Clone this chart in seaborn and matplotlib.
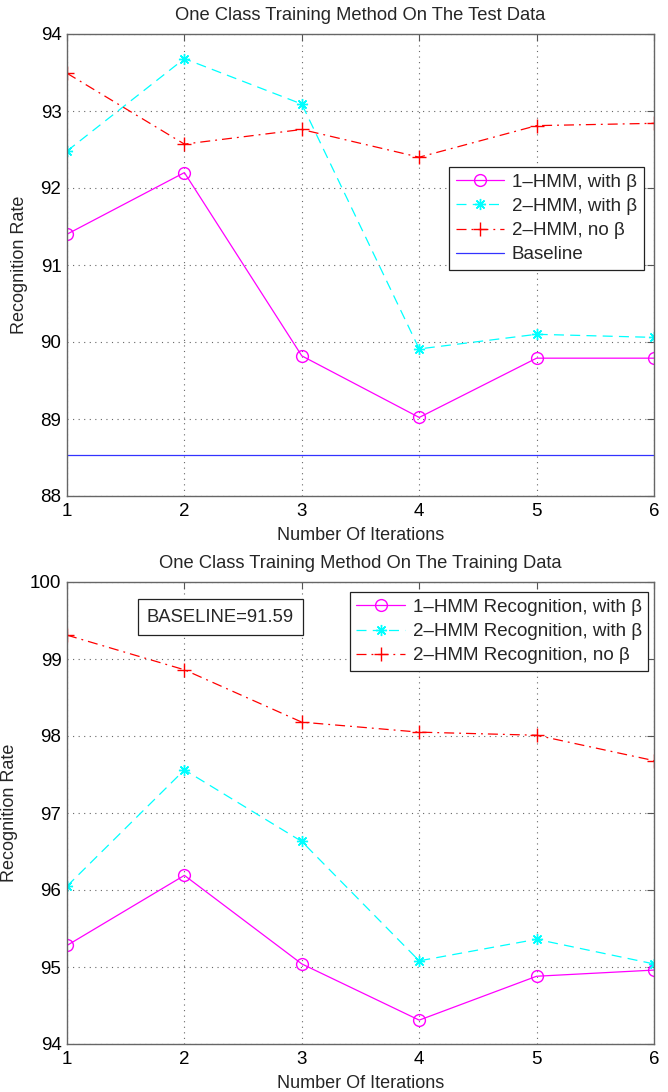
import matplotlib
matplotlib.use("Agg")
import matplotlib.pyplot as plt
import seaborn as sns
import pandas as pd
import numpy as np

iterations = [1, 2, 3, 4, 5, 6]

# Top panel: test data
test_1hmm_beta = [91.40, 92.20, 89.82, 89.02, 89.79, 89.79]
test_2hmm_beta = [92.48, 93.68, 93.09, 89.91, 90.10, 90.06]
test_2hmm_nobeta = [93.49, 92.57, 92.76, 92.40, 92.81, 92.84]
test_baseline = 88.53

# Bottom panel: training data
train_1hmm_beta = [95.28, 96.19, 95.04, 94.31, 94.88, 94.96]
train_2hmm_beta = [96.05, 97.56, 96.63, 95.08, 95.36, 95.04]
train_2hmm_nobeta = [99.31, 98.86, 98.18, 98.05, 98.01, 97.68]
train_baseline_text = "BASELINE=91.59"

top_yticks = [88, 89, 90, 91, 92, 93, 94]
bottom_yticks = [94, 95, 96, 97, 98, 99, 100]

top_labels = ["1\u2013HMM, with \u03b2", "2\u2013HMM, with \u03b2", "2\u2013HMM, no \u03b2", "Baseline"]
bottom_labels = ["1\u2013HMM Recognition, with \u03b2", "2\u2013HMM Recognition, with \u03b2",
                 "2\u2013HMM Recognition, no \u03b2"]

sns.set_style("white")
plt.rcParams['font.family'] = ['Liberation Sans', 'DejaVu Sans']

fig = plt.figure(figsize=(6.68, 10.92), dpi=100)
ax1 = fig.add_axes([67/668, (1092-496)/1092, 587/668, 462/1092])
ax2 = fig.add_axes([67/668, (1092-1044)/1092, 587/668, 462/1092])

asterisk = (8, 2, 0)
styles = [
    dict(color="#ff00ff", linestyle="-", marker="o", markerfacecolor="none", markeredgecolor="#ff00ff", markersize=8.5),
    dict(color="#00ffff", linestyle=(0, (8, 5)), marker=asterisk, markeredgecolor="#00ffff", markersize=8),
    dict(color="#ff0000", linestyle=(0, (8, 4, 1.5, 4)), marker="+", markeredgecolor="#ff0000", markersize=10),
]
lw = 0.9

def panel(ax, series, labels, yticks, title):
    for vals, lab, st in zip(series, labels, styles):
        df = pd.DataFrame({"Iteration": iterations, "Rate": vals})
        sns.lineplot(data=df, x="Iteration", y="Rate", ax=ax, label=lab, linewidth=lw,
                     markeredgewidth=1.0, **st)
    ax.set_xlim(1, 6)
    ax.set_ylim(yticks[0], yticks[-1])
    ax.set_xticks(iterations)
    ax.set_yticks(yticks)
    ax.tick_params(axis='both', direction='in', top=True, right=True, length=5, width=0.8,
                   labelsize=13.5, colors='#555555', labelcolor='black')
    ax.tick_params(axis='x', pad=5)
    ax.tick_params(axis='y', pad=4)
    ax.grid(True, color='#666666', linestyle=(0, (1, 4)), linewidth=0.8)
    for s in ax.spines.values():
        s.set_color('#666666')
        s.set_linewidth(1.0)
    ax.set_xlabel("Number Of Iterations", fontsize=13, labelpad=5)
    ax.set_ylabel("Recognition Rate", fontsize=13, labelpad=9)
    ax.set_title(title, fontsize=13.2, pad=10)

leg_kw = dict(fontsize=13.5, handlelength=2.6, labelspacing=0.38, borderpad=0.35,
              handletextpad=0.4, fancybox=False, framealpha=1, edgecolor='#222222',
              borderaxespad=0)

panel(ax1, [test_1hmm_beta, test_2hmm_beta, test_2hmm_nobeta], top_labels[:3], top_yticks,
      "One Class Training Method On The Test Data")
ax1.axhline(test_baseline, color="#3333ff", linewidth=lw, label=top_labels[3])
leg1 = ax1.legend(loc='upper left', bbox_to_anchor=(0.651, 0.712), **leg_kw)
leg1.get_frame().set_linewidth(0.9)

panel(ax2, [train_1hmm_beta, train_2hmm_beta, train_2hmm_nobeta], bottom_labels, bottom_yticks,
      "One Class Training Method On The Training Data")
leg2 = ax2.legend(loc='upper left', bbox_to_anchor=(0.482, 0.978), **leg_kw)
leg2.get_frame().set_linewidth(0.9)
ax2.text(0.136, 0.924, train_baseline_text, transform=ax2.transAxes, fontsize=13.3,
         ha='left', va='center',
         bbox=dict(boxstyle='square,pad=0.5', facecolor='white', edgecolor='#222222', linewidth=0.9))

fig.savefig("out.png", dpi=100)
